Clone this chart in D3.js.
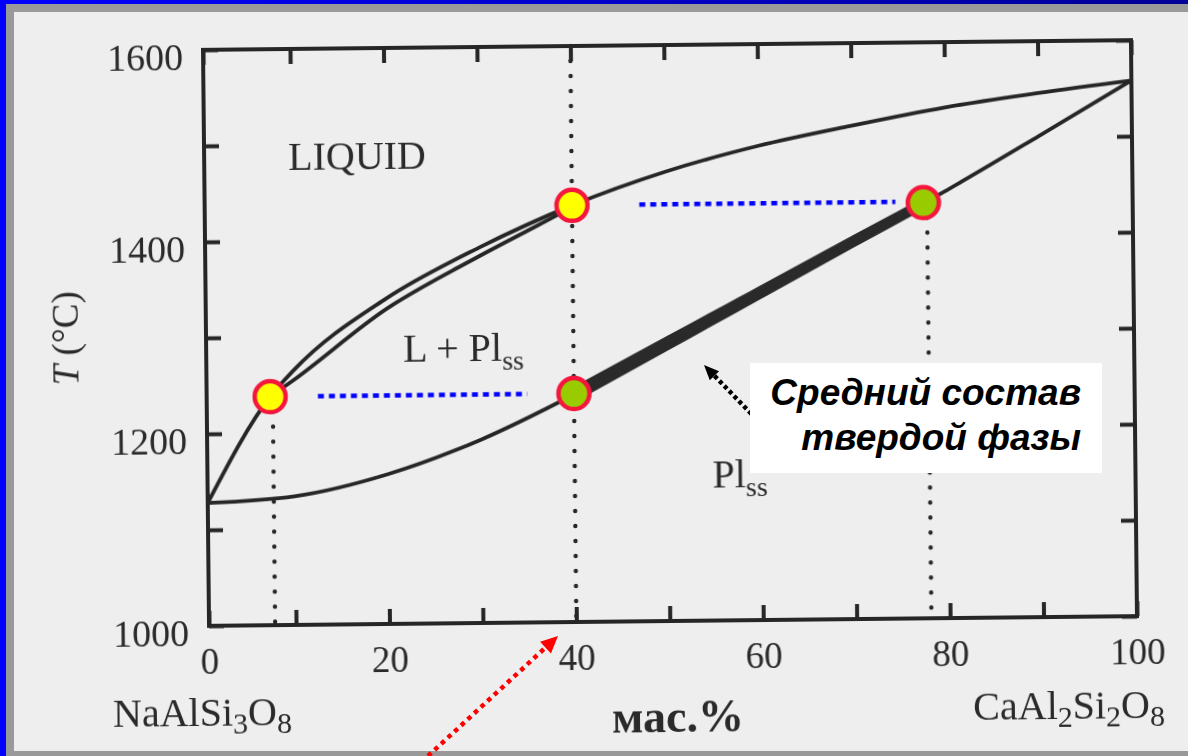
<!DOCTYPE html>
<html>
<head>
<meta charset="utf-8">
<title>NaAlSi3O8 - CaAl2Si2O8</title>
<script src="https://d3js.org/d3.v7.min.js"></script>
<style>
  body { margin: 0; background: #eeeeee; }
  svg { display: block; }
  .scan text { font-family: "Liberation Serif", "DejaVu Serif", serif; fill: #2a2a2a; }
  .note { font-family: "Liberation Sans", Arial, sans-serif; font-weight: bold; font-style: italic; fill: #000; }
</style>
</head>
<body>
<div id="chart"></div>
<script>
// состав, мас.% CaAl2Si2O8 ; температура, °C
var liqX = [0, 7.3, 10, 20, 30, 40, 50, 60, 70, 80, 90, 100];
var liqT = [1128, 1238, 1265, 1339, 1391, 1434, 1468, 1494, 1514, 1532, 1546, 1558];
var liq2X = [7.3, 10, 20, 30, 36, 40];
var liq2T = [1238, 1255, 1328, 1382, 1412, 1432];
var solX = [0, 10, 20, 30, 40, 50, 60, 70, 77.6, 80, 90, 100];
var solT = [1128, 1134, 1156, 1191, 1237, 1289, 1341, 1393, 1432, 1445, 1501, 1558];
var bandFrom = 40, bandTo = 77.6;

var liqPtX = [7.3, 40], liqPtT = [1238, 1434];
var solPtX = [40, 77.6], solPtT = [1238, 1433];
var tieT = [1238, 1434], tieFrom = [12.6, 47.2], tieTo = [35, 74.6];
var dropX = [7.6, 40, 78], dropT = [1238, 1600, 1433];

var xTicks = d3.range(0, 101, 10);
var xLabels = [0, 20, 40, 60, 80, 100];
var yTicks = d3.range(1000, 1601, 100);
var yLabels = [1000, 1200, 1400, 1600];

var W = 1188, H = 756, ink = "#262626";

var svg = d3.select("#chart").append("svg")
  .attr("width", W).attr("height", H);

var defs = svg.append("defs");
defs.append("filter").attr("id", "soft")
  .append("feGaussianBlur").attr("stdDeviation", 0.35);
var grad = defs.append("linearGradient").attr("id", "topband");
grad.append("stop").attr("offset", "0%").attr("stop-color", "#0000ff");
grad.append("stop").attr("offset", "100%").attr("stop-color", "#000098");

// slide frame
svg.append("rect").attr("width", W).attr("height", H).attr("fill", "#eeeeee");
svg.append("rect").attr("x", 0).attr("y", 4).attr("width", W).attr("height", 8).attr("fill", "#999999");
svg.append("rect").attr("x", 6).attr("y", 0).attr("width", 8).attr("height", H).attr("fill", "#999999");
svg.append("rect").attr("x", 0).attr("y", 751).attr("width", W).attr("height", 5).attr("fill", "#999999");
svg.append("rect").attr("x", 0).attr("y", 0).attr("width", W).attr("height", 4).attr("fill", "url(#topband)");
svg.append("rect").attr("x", 0).attr("y", 0).attr("width", 6).attr("height", H).attr("fill", "#0000ff");

var x = d3.scaleLinear().domain([0, 10, 100]).range([206, 293, 1134]);
var y = d3.scaleLinear().domain([1000, 1600]).range([621, 45]);

// scanned figure is slightly tilted
var tilt = "rotate(-0.6, 670, 333)";
var scan = svg.append("g").attr("class", "scan").attr("transform", tilt).attr("filter", "url(#soft)");

function styleAxis(g) {
  g.attr("color", ink);
  g.select(".domain").remove();
  g.selectAll(".tick line").attr("stroke-width", 4);
}

scan.append("g")
  .attr("transform", "translate(0," + y(1000) + ")")
  .call(d3.axisBottom(x).tickValues(xTicks).tickSize(-15).tickSizeOuter(0)
    .tickFormat(function(d) { return xLabels.indexOf(d) >= 0 ? d : ""; }))
  .call(styleAxis)
  .selectAll("text").attr("y", 48).attr("dy", 0).attr("font-size", 37);

scan.append("g")
  .attr("transform", "translate(0," + y(1600) + ")")
  .call(d3.axisTop(x).tickValues(xTicks).tickSize(-15).tickSizeOuter(0).tickFormat(""))
  .call(styleAxis);

scan.append("g")
  .attr("transform", "translate(" + x(0) + ",0)")
  .call(d3.axisLeft(y).tickValues(yTicks).tickSize(-15).tickSizeOuter(0)
    .tickFormat(function(d) { return yLabels.indexOf(d) >= 0 ? d : ""; }))
  .call(styleAxis)
  .selectAll("text").attr("x", -20).attr("y", 19).attr("dy", 0).attr("font-size", 38);

scan.append("g")
  .attr("transform", "translate(" + x(100) + ",0)")
  .call(d3.axisRight(y).tickValues(yTicks).tickSize(-15).tickSizeOuter(0).tickFormat(""))
  .call(styleAxis);

scan.append("rect")
  .attr("x", x(0)).attr("y", y(1600))
  .attr("width", x(100) - x(0)).attr("height", y(1000) - y(1600))
  .attr("fill", "none").attr("stroke", ink).attr("stroke-width", 4);

// dotted verticals
scan.selectAll(".drop").data(dropX).enter().append("line")
  .attr("x1", function(d) { return x(d); })
  .attr("x2", function(d) { return x(d); })
  .attr("y1", function(d, i) { return y(dropT[i]); })
  .attr("y2", y(1000))
  .attr("stroke", ink).attr("stroke-width", 4.4)
  .attr("stroke-linecap", "round").attr("stroke-dasharray", "0 15");

var line = d3.line()
  .x(function(d) { return x(d[0]); })
  .y(function(d) { return y(d[1]); })
  .curve(d3.curveMonotoneX);

var liq = d3.zip(liqX, liqT), liq2 = d3.zip(liq2X, liq2T), sol = d3.zip(solX, solT);

[liq, liq2, sol].forEach(function(c) {
  scan.append("path").attr("d", line(c))
    .attr("fill", "none").attr("stroke", ink).attr("stroke-width", 3.8);
});

// thick band: average solid composition
var band = sol.filter(function(d) { return d[0] >= bandFrom && d[0] <= bandTo; });
var bandW = function(d) { return 16 - 4 * (d[0] - bandFrom) / (bandTo - bandFrom); };
scan.append("path")
  .attr("d", d3.area()
    .x(function(d) { return x(d[0]); })
    .y0(function(d) { return y(d[1]) + bandW(d) / 2; })
    .y1(function(d) { return y(d[1]) - bandW(d) / 2; })
    .curve(d3.curveMonotoneX)(band))
  .attr("fill", "#2c2c2c");

// region labels
scan.append("text").attr("x", 290).attr("y", 166).attr("font-size", 40).text("LIQUID");
var lp = scan.append("text").attr("x", 403).attr("y", 359).attr("font-size", 40);
lp.append("tspan").text("L + Pl");
lp.append("tspan").attr("dy", 9).attr("font-size", 28).text("ss");
var pl = scan.append("text").attr("x", 711).attr("y", 488).attr("font-size", 40);
pl.append("tspan").text("Pl");
pl.append("tspan").attr("dy", 9).attr("font-size", 28).text("ss");

// axis titles
var tt = scan.append("text")
  .attr("transform", "translate(78,332) rotate(-90)")
  .attr("text-anchor", "middle").attr("font-size", 37);
tt.append("tspan").attr("font-style", "italic").text("T");
tt.append("tspan").text(" (°C)");

var na = scan.append("text").attr("x", 109).attr("y", 721).attr("font-size", 40);
na.append("tspan").text("NaAlSi");
na.append("tspan").attr("dy", 8).attr("font-size", 30).text("3");
na.append("tspan").attr("dy", -8).text("O");
na.append("tspan").attr("dy", 8).attr("font-size", 30).text("8");

var ca = scan.append("text").attr("x", 1161).attr("y", 723).attr("font-size", 40).attr("text-anchor", "end");
ca.append("tspan").text("CaAl");
ca.append("tspan").attr("dy", 8).attr("font-size", 30).text("2");
ca.append("tspan").attr("dy", -8).text("Si");
ca.append("tspan").attr("dy", 8).attr("font-size", 30).text("2");
ca.append("tspan").attr("dy", -8).text("O");
ca.append("tspan").attr("dy", 8).attr("font-size", 30).text("8");

scan.append("text").attr("x", 608).attr("y", 732).attr("font-size", 46)
  .attr("font-weight", "bold").text("мас.%");

// overlay: tie lines and points
var over = svg.append("g").attr("transform", tilt);

over.selectAll(".tie").data(tieT).enter().append("line")
  .attr("x1", function(d, i) { return x(tieFrom[i]); })
  .attr("x2", function(d, i) { return x(tieTo[i]); })
  .attr("y1", function(d) { return y(d); })
  .attr("y2", function(d) { return y(d); })
  .attr("stroke", "#0000ff").attr("stroke-width", 4.5).attr("stroke-dasharray", "6 5");

function points(xs, ts, fill) {
  over.selectAll(null).data(xs).enter().append("circle")
    .attr("cx", function(d) { return x(d); })
    .attr("cy", function(d, i) { return y(ts[i]); })
    .attr("r", 15.5)
    .attr("fill", fill).attr("stroke", "#f5163e").attr("stroke-width", 4.5);
}
points(liqPtX, liqPtT, "#ffff00");
points(solPtX, solPtT, "#99cc00");

// annotations
function arrow(x1, y1, x2, y2, color, w, dash, hl, hw) {
  var a = Math.atan2(y2 - y1, x2 - x1), c = Math.cos(a), s = Math.sin(a);
  var bx = x2 - hl * c, by = y2 - hl * s;
  svg.append("line").attr("x1", x1).attr("y1", y1).attr("x2", bx).attr("y2", by)
    .attr("stroke", color).attr("stroke-width", w).attr("stroke-dasharray", dash);
  svg.append("polygon")
    .attr("points", [[x2, y2], [bx - hw / 2 * s, by + hw / 2 * c], [bx + hw / 2 * s, by - hw / 2 * c]].join(" "))
    .attr("fill", color);
}

arrow(766, 429, 704, 365, "#000", 4.5, "4 3", 15, 13);
arrow(428, 756, 558, 636, "#ff0000", 4.5, "4.5 4.5", 17, 16);

svg.append("rect").attr("x", 750).attr("y", 363).attr("width", 352).attr("height", 110).attr("fill", "#ffffff");
svg.append("text").attr("class", "note").attr("x", 1081).attr("y", 405)
  .attr("text-anchor", "end").attr("font-size", 37).text("Средний состав");
svg.append("text").attr("class", "note").attr("x", 1081).attr("y", 450)
  .attr("text-anchor", "end").attr("font-size", 37).text("твердой фазы");
</script>
</body>
</html>
